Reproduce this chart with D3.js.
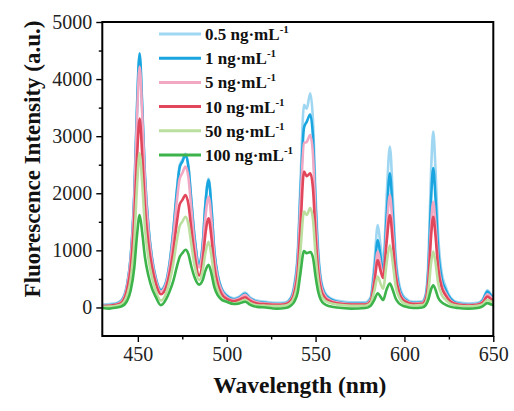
<!DOCTYPE html>
<html><head><meta charset="utf-8">
<script src="https://cdn.jsdelivr.net/npm/d3@7"></script>
<style>
html,body{margin:0;padding:0;background:#fff;}
svg{display:block;}
</style></head>
<body>
<svg id="chart" width="514" height="411"></svg>
<script>
// ---- data ----
const wavelengths = [430,434,438,441,444,446,448,449.5,451,452.5,454,456,458,460,463,466,468,470,472,473.5,475,476.8,478.5,480,482,484.5,486.5,488,489.8,491.5,493,495,497,500,504,507,510.4,513,517,522,528,533,536,538,540,541.5,543.5,545,547,548.5,550,551.5,553,555,558,562,570,578,581,583,585,586.5,588,590,591.8,593.5,595,597,600,605,610,612,613.5,615,616.2,617.5,619,621,623,626,630,636,641,644,646.7,649,650];

const s05 = [50,60,80,140,420,900,1950,3400,4380,3450,2300,1420,870,540,320,470,820,1380,2080,2480,2580,2690,2470,1920,1220,770,1120,1820,2260,1720,1020,570,350,220,160,190,260,180,120,100,80,90,170,400,1000,2200,3550,3480,3750,3300,2000,1000,500,280,170,120,90,90,180,750,1445,1100,750,1950,2820,1900,950,420,180,100,110,240,850,2400,3080,2400,1250,600,380,170,90,70,80,140,300,220,200];
const s1 = [30,40,60,120,400,900,2000,3500,4450,3500,2300,1400,850,520,300,450,800,1350,2050,2450,2550,2670,2450,1900,1200,750,1100,1800,2230,1700,1000,550,330,200,140,170,240,160,100,80,60,70,150,350,900,2000,3150,3250,3380,3000,1800,900,450,250,150,100,70,70,150,600,1180,900,600,1600,2350,1600,800,350,150,80,90,200,700,1900,2440,1900,1000,500,320,150,70,50,60,120,280,200,180];
const s5 = [30,35,55,110,380,850,1900,3300,4220,3350,2200,1330,800,490,280,420,740,1250,1880,2250,2350,2470,2270,1760,1100,700,1000,1580,1940,1500,900,500,300,180,130,160,220,150,90,70,55,65,130,310,800,1800,2880,2900,3020,2700,1600,800,400,220,130,90,60,60,130,500,980,760,540,1350,1970,1350,680,300,130,70,80,170,560,1450,1850,1450,780,400,260,120,60,45,55,100,230,170,150];
const s10 = [20,30,45,90,320,700,1550,2600,3310,2650,1750,1100,700,430,230,360,620,1000,1500,1800,1880,1970,1800,1400,900,560,820,1280,1560,1200,720,400,240,150,110,130,180,120,70,55,45,55,110,250,640,1400,2380,2300,2350,2100,1250,620,320,180,110,75,50,50,110,420,830,650,515,1150,1620,1130,580,260,110,60,65,140,480,1250,1590,1250,680,350,220,100,50,35,45,85,190,140,130];
const s50 = [10,15,30,60,220,500,1150,2100,2700,2150,1400,850,520,300,120,260,470,780,1180,1420,1500,1590,1450,1130,720,480,650,950,1150,880,530,300,170,100,70,90,130,80,40,30,25,35,80,180,460,1000,1680,1620,1740,1550,920,460,230,130,80,50,30,30,80,280,540,420,330,780,1090,760,390,180,70,35,40,90,300,780,980,780,420,220,140,60,30,20,30,55,130,100,90];
const s100 = [-10,-20,0,20,120,300,700,1250,1620,1300,880,550,330,190,40,150,290,470,720,880,950,1010,930,730,520,400,480,640,745,580,360,210,140,100,60,70,100,50,10,0,-20,-10,30,100,270,600,990,950,970,880,540,270,130,60,20,0,-20,-10,30,130,250,190,130,320,420,300,160,70,20,-10,0,40,140,320,390,310,170,90,50,10,-10,-20,-10,20,75,50,40];

const seriesNames = ["0.5 ng·mL", "1 ng·mL", "5 ng·mL", "10 ng·mL", "50 ng·mL", "100 ng·mL"];
const seriesValues = [s05, s1, s5, s10, s50, s100];
const seriesColors = ["#9fd6f1", "#19a6e0", "#f2a7c2", "#e2465a", "#bbdf9e", "#3cb44b"];

const xTicks = [450, 500, 550, 600, 650];
const xMinorTicks = [475, 525, 575, 625];
const yTicks = [0, 1000, 2000, 3000, 4000, 5000];
const yMinorTicks = [500, 1500, 2500, 3500, 4500];
const xDomain = [430, 650];
const yDomain = [-500, 5000];
const xTitle = "Wavelength (nm)";
const yTitle = "Fluorescence Intensity (a.u.)";

// ---- layout ----
const svg = d3.select("#chart");
const L = 102.3, R = 493.3, T = 22, B = 336;
const x = d3.scaleLinear().domain(xDomain).range([L, R]);
const y = d3.scaleLinear().domain(yDomain).range([B, T]);
const serif = "'Liberation Serif','Times New Roman',serif";

// clip
svg.append("defs").append("clipPath").attr("id","clip")
  .append("rect").attr("x", L).attr("y", T).attr("width", R-L).attr("height", B-T);

const line = d3.line()
  .x((d,i) => x(wavelengths[i]))
  .y(d => y(d))
  .curve(d3.curveMonotoneX);

const g = svg.append("g").attr("clip-path","url(#clip)");
seriesValues.forEach((vals, k) => {
  g.append("path")
    .attr("d", line(vals))
    .attr("fill","none")
    .attr("stroke", seriesColors[k])
    .attr("stroke-width", 2.6)
    .attr("stroke-linejoin","round")
    .attr("stroke-linecap","round");
});

// axes
const xAxis = d3.axisBottom(x).tickValues(xTicks).tickSize(6).tickPadding(5).tickFormat(d3.format("d"));
const xAxisMinor = d3.axisBottom(x).tickValues(xMinorTicks).tickSize(3.5).tickFormat("");
const yAxis = d3.axisLeft(y).tickValues(yTicks).tickSize(6).tickPadding(4).tickFormat(d3.format("d"));
const yAxisMinor = d3.axisLeft(y).tickValues(yMinorTicks).tickSize(3.5).tickFormat("");

function styleAxis(sel){
  sel.select(".domain").remove();
  sel.selectAll(".tick line").attr("stroke","#000").attr("stroke-width",1.4);
  sel.selectAll(".tick text").attr("font-family", serif).attr("font-size", 20).attr("fill","#222");
}
svg.append("g").attr("transform",`translate(0,${B})`).call(xAxis).call(styleAxis);
svg.append("g").attr("transform",`translate(0,${B})`).call(xAxisMinor).call(styleAxis);
svg.append("g").attr("transform",`translate(${L},0)`).call(yAxis).call(styleAxis);
svg.append("g").attr("transform",`translate(${L},0)`).call(yAxisMinor).call(styleAxis);

// frame
svg.append("rect").attr("x", L).attr("y", T).attr("width", R-L).attr("height", B-T)
  .attr("fill","none").attr("stroke","#000").attr("stroke-width",2);

// titles
svg.append("text").attr("x", (L+R)/2 + 2).attr("y", 393)
  .attr("text-anchor","middle").attr("font-family", serif).attr("font-weight","bold")
  .attr("font-size", 23.5).attr("fill","#111").text(xTitle);
svg.append("text").attr("transform", `translate(40,${(T+B)/2 - 20}) rotate(-90)`)
  .attr("text-anchor","middle").attr("font-family", serif).attr("font-weight","bold")
  .attr("font-size", 23).attr("fill","#111").text(yTitle);

// legend
const legY0 = 34, legDy = 24.2;
const leg = svg.append("g");
seriesNames.forEach((name, k) => {
  const yy = legY0 + k*legDy;
  leg.append("line").attr("x1",159).attr("x2",201).attr("y1",yy).attr("y2",yy)
    .attr("stroke", seriesColors[k]).attr("stroke-width", 3);
  const t = leg.append("text").attr("x", 205).attr("y", yy + 6)
    .attr("font-family", serif).attr("font-weight","bold").attr("font-size", 17).attr("fill","#111");
  t.append("tspan").text(name);
  t.append("tspan").attr("font-size", 11).attr("dy", -7).text("-1");
});
</script>
</body></html>
